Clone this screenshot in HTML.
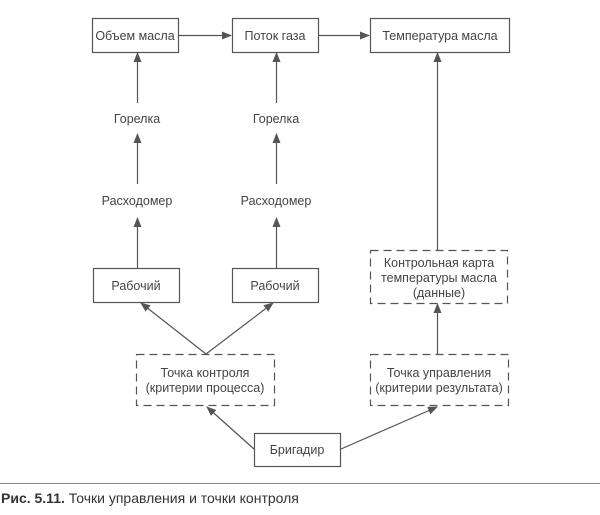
<!DOCTYPE html>
<html><head><meta charset="utf-8"><style>
body{margin:0;background:#fff;width:600px;height:510px;overflow:hidden}
svg text{font-family:"Liberation Sans",sans-serif;font-size:12.5px;fill:#444}
</style></head><body>
<svg width="600" height="510" xmlns="http://www.w3.org/2000/svg">
<defs><marker id="a" markerWidth="10" markerHeight="8" refX="9" refY="4" orient="auto" markerUnits="userSpaceOnUse"><path d="M0,0L10,4L0,8z" fill="#555"/></marker></defs>
<g fill="none" stroke="#555" stroke-width="1.2">
<rect x="92.5" y="18.5" width="86" height="34"/>
<rect x="232.5" y="18.5" width="86" height="34"/>
<rect x="370.5" y="18.5" width="139" height="34"/>
<rect x="93.5" y="268.5" width="86" height="34"/>
<rect x="232.5" y="268.5" width="86" height="34"/>
<rect x="254.5" y="433.5" width="86" height="33"/>
<g stroke-dasharray="8,5">
<rect x="370.5" y="250.5" width="137" height="53"/>
<rect x="136.5" y="354.5" width="138" height="51"/>
<rect x="370.5" y="354.5" width="138" height="51"/>
</g>
<g marker-end="url(#a)">
<line x1="179" y1="35.5" x2="231" y2="35.5"/>
<line x1="319" y1="35.5" x2="369" y2="35.5"/>
<line x1="137.5" y1="103" x2="137.5" y2="53"/>
<line x1="276.5" y1="103" x2="276.5" y2="53"/>
<line x1="437.5" y1="250" x2="437.5" y2="53"/>
<line x1="137.5" y1="268" x2="137.5" y2="218"/>
<line x1="276.5" y1="268" x2="276.5" y2="218"/>
<line x1="137.5" y1="184" x2="137.5" y2="134"/>
<line x1="276.5" y1="184" x2="276.5" y2="134"/>
<line x1="206" y1="354" x2="141" y2="303"/>
<line x1="206" y1="354" x2="273" y2="303"/>
<line x1="437.5" y1="354" x2="437.5" y2="304"/>
<line x1="254" y1="449" x2="207" y2="407"/>
<line x1="341" y1="449" x2="437" y2="407"/>
</g>
</g>
<line x1="0" y1="483.5" x2="600" y2="483.5" stroke="#888" stroke-width="1"/>
<g text-anchor="middle">
<text x="135" y="40">Объем масла</text>
<text x="275" y="40">Поток газа</text>
<text x="440" y="40">Температура масла</text>
<text x="137" y="123">Горелка</text>
<text x="276" y="123">Горелка</text>
<text x="137" y="205">Расходомер</text>
<text x="276" y="205">Расходомер</text>
<text x="136" y="290">Рабочий</text>
<text x="275" y="290">Рабочий</text>
<text x="439" y="267">Контрольная карта</text>
<text x="439" y="282">температуры масла</text>
<text x="439" y="297">(данные)</text>
<text x="205" y="377">Точка контроля</text>
<text x="205" y="392">(критерии процесса)</text>
<text x="439" y="377">Точка управления</text>
<text x="439" y="392">(критерии результата)</text>
<text x="297" y="454">Бригадир</text>
</g>
<text x="1" y="503" style="font-size:14px;fill:#333"><tspan font-weight="bold">Рис. 5.11.</tspan> Точки управления и точки контроля</text>
</svg>
</body></html>
